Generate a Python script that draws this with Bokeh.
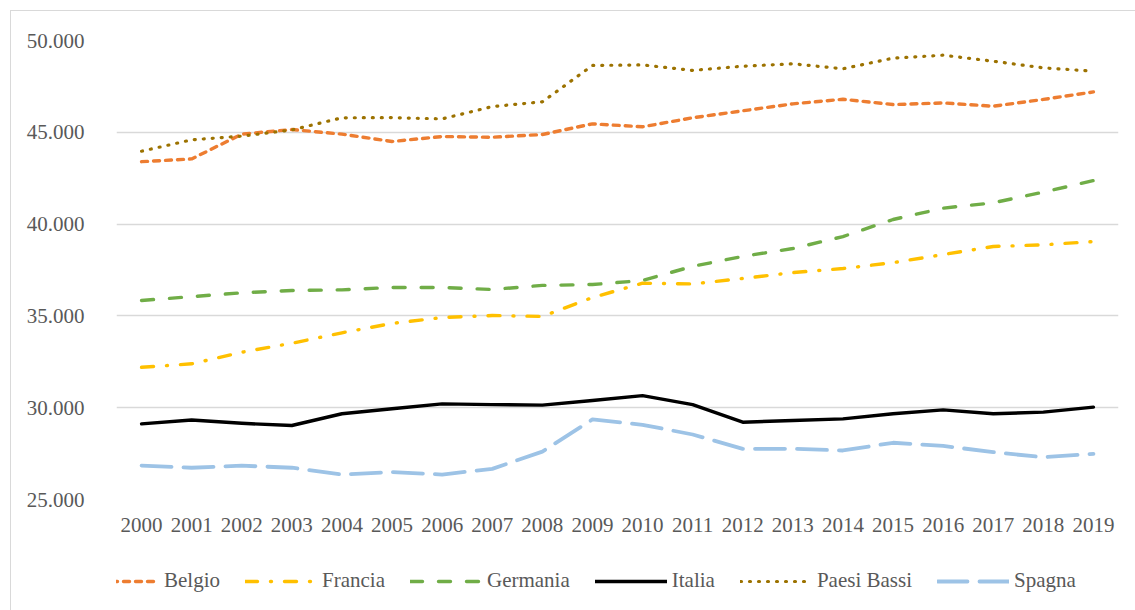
from bokeh.plotting import figure
from bokeh.layouts import column
from bokeh.models import FactorRange, Range1d, Legend, LegendItem, FixedTicker
from bokeh.embed import file_html
from bokeh.resources import INLINE

years = [str(y) for y in range(2000, 2020)]
belgio = [43400, 43550, 44900, 45150, 44900, 44500, 44770, 44730, 44880, 45460,
          45300, 45790, 46170, 46550, 46800, 46510, 46600, 46420, 46790, 47200]
francia = [32200, 32390, 33020, 33510, 34080, 34590, 34910, 35020, 34970, 36000,
           36780, 36740, 37040, 37360, 37580, 37900, 38340, 38780, 38870, 39050]
germania = [35840, 36050, 36260, 36380, 36420, 36550, 36550, 36440, 36660, 36710,
            36930, 37700, 38240, 38670, 39320, 40250, 40870, 41160, 41740, 42370]
italia = [29120, 29330, 29150, 29030, 29670, 29940, 30210, 30170, 30140, 30390,
          30660, 30170, 29210, 29300, 29390, 29670, 29880, 29670, 29760, 30030]
paesi_bassi = [43970, 44590, 44790, 45130, 45790, 45800, 45730, 46400, 46660, 48640,
               48670, 48370, 48600, 48730, 48460, 49040, 49200, 48870, 48510, 48330]
spagna = [26850, 26730, 26840, 26730, 26360, 26490, 26360, 26670, 27610, 29360,
          29070, 28540, 27760, 27760, 27670, 28090, 27920, 27580, 27300, 27490]
y_ticks = [25000, 30000, 35000, 40000, 45000, 50000]

FONT = "Liberation Serif"
TXT = "#595959"

p = figure(width=1124, height=533, output_backend="svg", toolbar_location=None,
           x_range=FactorRange(*years, range_padding=0), y_range=Range1d(25000, 50000),
           min_border_left=105, min_border_right=17, min_border_top=29, min_border_bottom=45)
p.outline_line_color = None
p.background_fill_color = "white"
p.border_fill_color = "white"

p.xgrid.grid_line_color = None
p.ygrid.grid_line_color = "#D9D9D9"
p.ygrid.grid_line_width = 1.5
p.yaxis.ticker = FixedTicker(ticks=y_ticks)
p.yaxis.major_label_overrides = {t: f"{t:,}".replace(",", ".") for t in y_ticks}
for ax in (p.xaxis[0], p.yaxis[0]):
    ax.axis_line_color = None
    ax.major_tick_line_color = None
    ax.minor_tick_line_color = None
    ax.major_label_text_font = FONT
    ax.major_label_text_font_size = "21px"
    ax.major_label_text_color = TXT
p.yaxis.major_label_standoff = 26
p.xaxis.major_label_standoff = 12

series = [
    ("Belgio", belgio, "#ED7D31", "6 6", 3.4),
    ("Francia", francia, "#FFC000", "12 13 1 13", 3.4),
    ("Germania", germania, "#70AD47", "12 16", 3.4),
    ("Italia", italia, "#000000", None, 3.4),
    ("Paesi Bassi", paesi_bassi, "#9C7200", "1 8", 3.2),
    ("Spagna", spagna, "#9DC3E6", "30 12", 3.8),
]

# legend strip: a second figure whose view shows none of the series (y range 0-1),
# used only to hold the legend below the chart without clipping
lg = figure(width=1124, height=66, output_backend="svg", toolbar_location=None,
            x_range=FactorRange(*years, range_padding=0), y_range=Range1d(0, 1),
            x_axis_type=None, y_axis_type=None,
            min_border_left=0, min_border_right=0, min_border_top=0, min_border_bottom=0)
lg.outline_line_color = None
lg.grid.visible = False
lg.border_fill_color = "white"
lg.background_fill_color = "white"

items = []
for name, vals, col, dash, w in series:
    kw = dict(line_color=col, line_width=w, line_cap="round", line_join="round")
    if dash:
        kw["line_dash"] = dash
    p.line(years, vals, **kw)
    r2 = lg.line(years, vals, **kw)
    items.append(LegendItem(label=name, renderers=[r2]))

legend = Legend(items=items, orientation="horizontal", location=(-29, 17),
                glyph_width=72, glyph_height=20, label_standoff=5, spacing=25,
                label_text_font=FONT, label_text_font_size="21px",
                label_text_color=TXT, border_line_color=None,
                background_fill_alpha=0, margin=0, padding=4)
lg.add_layout(legend, "center")

layout = column(p, lg, spacing=0)
layout.styles = {"border": "1px solid #D9D9D9", "margin-left": "10px", "margin-top": "10px"}

open("out.html", "w").write(file_html(layout, INLINE))
